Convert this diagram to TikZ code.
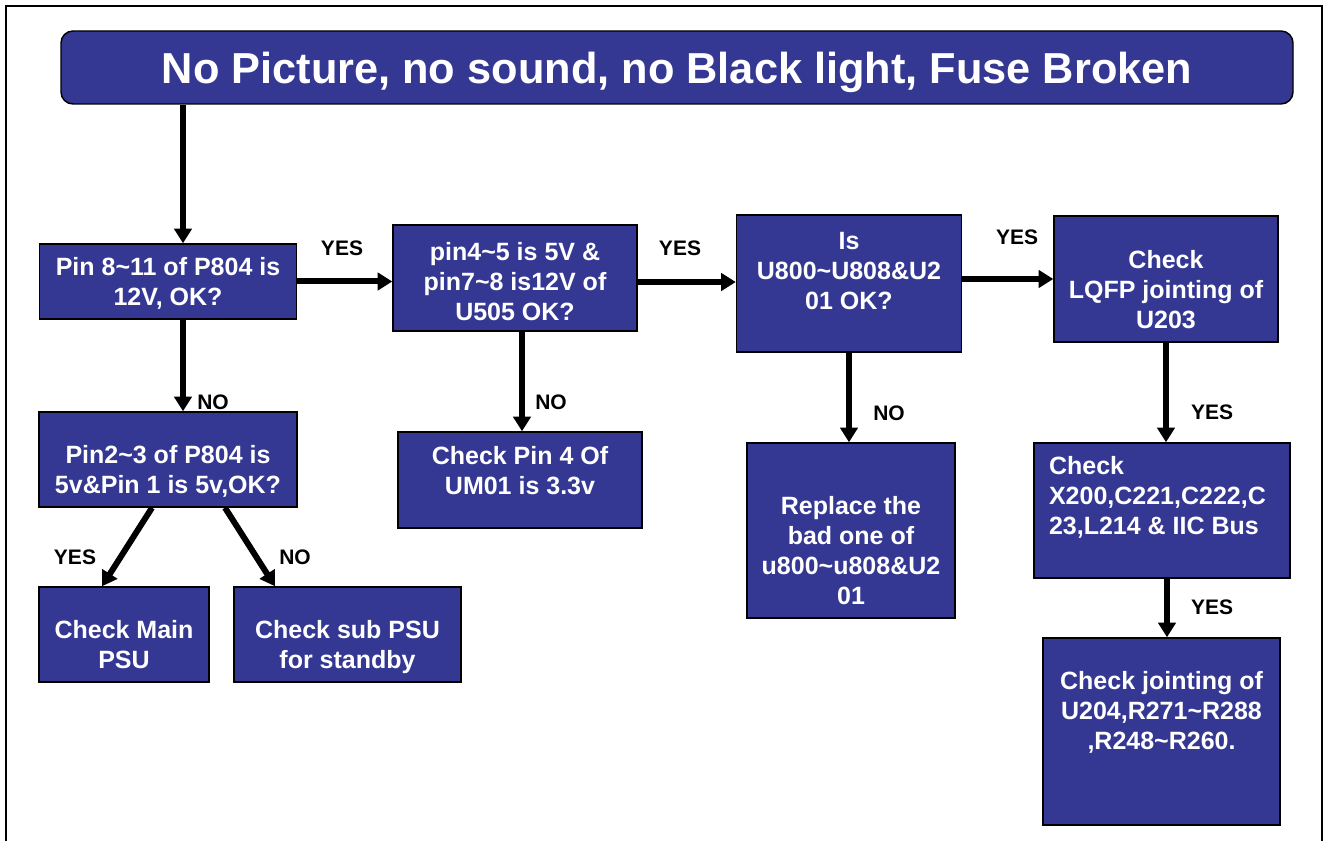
\documentclass[tikz,border=0pt]{standalone}
\usepackage{fontspec}
\setmainfont{Liberation Sans}
\usetikzlibrary{arrows.meta}
\definecolor{boxblue}{RGB}{53,56,147}

\begin{document}
\begin{tikzpicture}[x=0.75pt, y=-0.75pt,
  box/.style={draw=black, line width=1.1pt, fill=boxblue, inner sep=0pt},
  boxtext/.style={text=white, align=center, inner sep=0pt, font=\fontsize{18.75}{22.5}\selectfont\bfseries},
  lbl/.style={inner sep=0pt, font=\fontsize{15.75}{18}\selectfont\bfseries},
  arr/.style={line width=4.5pt, -{Triangle[length=11pt,width=13pt]}}]
\useasboundingbox (0,0) rectangle (1328,841);
\draw[line width=1.7pt] (6,841) -- (6,6) -- (1322,6) -- (1322,841);

\node[box, rounded corners=9pt, minimum width=1232*0.75pt, minimum height=73*0.75pt, text=white, text depth=0pt, font=\fontsize{32.5}{38}\selectfont\bfseries] (title) at (677,67.5)
{No Picture, no sound, no Black light, Fuse Broken};

\node[box, minimum width=257*0.75pt, minimum height=75*0.75pt, label={[boxtext, yshift=-1.5pt]center:{Pin 8\textasciitilde 11 of P804 is\\12V, OK?}}] (p804) at (168,281.5) {};
\node[box, minimum width=244*0.75pt, minimum height=106*0.75pt, label={[boxtext, yshift=-3pt]center:{pin4\textasciitilde 5 is 5V \&\\pin7\textasciitilde 8 is12V of\\U505 OK?}}] (u505) at (515,278) {};
\node[box, minimum width=225*0.75pt, minimum height=137*0.75pt, label={[boxtext, yshift=9.4pt]center:{Is\\U800\textasciitilde U808\&U2\\01 OK?}}] (umcheck) at (849,283.5) {};
\node[box, minimum width=224*0.75pt, minimum height=126*0.75pt, label={[boxtext, yshift=-8.25pt]center:{Check\\LQFP jointing of\\U203}}] (lqfp) at (1166,279) {};

\node[box, minimum width=258*0.75pt, minimum height=95*0.75pt, label={[boxtext, yshift=-9pt]center:{Pin2\textasciitilde 3 of P804 is\\5v\&Pin 1 is 5v,OK?}}] (p804b) at (168,459.5) {};
\node[box, minimum width=244*0.75pt, minimum height=96*0.75pt, label={[boxtext, yshift=6.75pt]center:{Check Pin 4 Of\\UM01 is 3.3v}}] (u5check) at (520,480) {};
\node[box, minimum width=208*0.75pt, minimum height=175*0.75pt, label={[boxtext, yshift=-15pt]center:{Replace the\\bad one of\\u800\textasciitilde u808\&U2\\01}}] (replace) at (851,530.5) {};
\node[box, minimum width=256*0.75pt, minimum height=135*0.75pt, label={[boxtext, align=left, xshift=-3.4pt, yshift=9.75pt]center:{Check\\X200,C221,C222,C\\23,L214 \& IIC Bus}}] (xcheck) at (1162,510.5) {};

\node[box, minimum width=170*0.75pt, minimum height=95*0.75pt, label={[boxtext, yshift=-7.5pt]center:{Check Main\\PSU}}] (mainpsu) at (124,634.5) {};
\node[box, minimum width=227*0.75pt, minimum height=95*0.75pt, label={[boxtext, yshift=-9.5pt]center:{Check sub PSU\\for standby}}] (subpsu) at (347.5,634.5) {};
\node[box, minimum width=237*0.75pt, minimum height=187*0.75pt, label={[boxtext, yshift=14.25pt]center:{Check jointing of\\U204,R271\textasciitilde R288\\,R248\textasciitilde R260.}}] (final) at (1161.5,731.5) {};

\draw[arr] (title.south -| 183,0) -- (p804.north -| 183,0);
\draw[arr] (p804.south -| 183,0) -- (p804b.north -| 183,0);
\draw[arr] (p804.east) -- (p804.east -| u505.west);
\draw[arr] (u505.east |- 0,282) -- (umcheck.west |- 0,282);
\draw[arr] (umcheck.east |- lqfp.west) -- (lqfp.west);
\draw[arr] (u505.south -| 522,0) -- (u5check.north -| 522,0);
\draw[arr] (umcheck.south) -- (replace.north -| umcheck.south);
\draw[arr] (lqfp.south) -- (xcheck.north -| lqfp.south);
\draw[arr] (xcheck.south -| 1167,0) -- (final.north -| 1167,0);
\draw[arr] (p804b.south -| 152,0) -- (mainpsu.north -| 102,0);
\draw[arr] (p804b.south -| 225,0) -- (subpsu.north -| 275,0);

\node[lbl] (yes1) at (342,248) {YES};
\node[lbl] (yes2) at (680,248) {YES};
\node[lbl] (yes3) at (1017,237) {YES};
\node[lbl] (no1) at (213,402) {NO};
\node[lbl] (no2) at (551,402) {NO};
\node[lbl] (no3) at (889,413) {NO};
\node[lbl] (yes4) at (1212,412) {YES};
\node[lbl] (yes5) at (1212,607) {YES};
\node[lbl] (yes6) at (75,557) {YES};
\node[lbl] (no4) at (295,557) {NO};
\end{tikzpicture}
\end{document}
